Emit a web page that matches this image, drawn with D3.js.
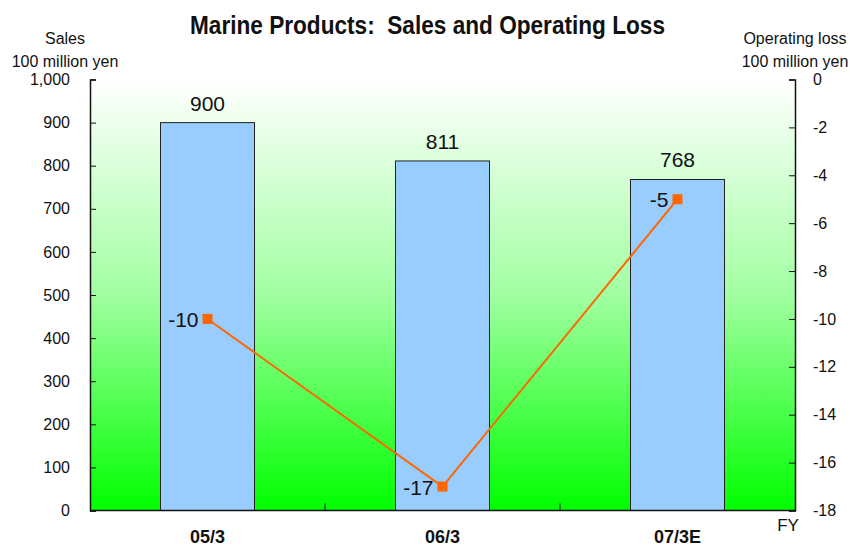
<!DOCTYPE html>
<html>
<head>
<meta charset="utf-8">
<script src="https://cdn.jsdelivr.net/npm/d3@7"></script>
<style>
  html, body { margin: 0; padding: 0; background: #fff; }
  svg { display: block; }
  text { font-family: "Liberation Sans Narrow", "Arial Narrow", "Liberation Sans", Arial, sans-serif; fill: #111; }
</style>
</head>
<body>
<svg id="chart" width="850" height="546"></svg>
<script>
// Fiscal years, sales (bars, left axis) and operating loss (line, right axis)
const categories = ["05/3", "06/3", "07/3E"];
const sales = [900, 811, 768];
const operatingLoss = [-10, -17, -5];
const salesTicks = [0, 100, 200, 300, 400, 500, 600, 700, 800, 900, 1000];
const lossTicks = [0, -2, -4, -6, -8, -10, -12, -14, -16, -18];

const svg = d3.select("#chart");
const m = { left: 90, right: 795, top: 79.5, bottom: 510.5 };

const x = d3.scaleBand().domain(categories).range([m.left, m.right]).paddingInner(0).paddingOuter(0);
const ySales = d3.scaleLinear().domain([0, 1000]).range([m.bottom, m.top]);
const yLoss = d3.scaleLinear().domain([-18, 0]).range([m.bottom, m.top]);

// Plot-area background: white fading to bright green
const defs = svg.append("defs");
const grad = defs.append("linearGradient").attr("id", "bg").attr("x1", 0).attr("y1", 0).attr("x2", 0).attr("y2", 1);
grad.append("stop").attr("offset", "0%").attr("stop-color", "#ffffff");
grad.append("stop").attr("offset", "50%").attr("stop-color", "#a2ffa2");
grad.append("stop").attr("offset", "100%").attr("stop-color", "#00ff00");

svg.append("rect")
  .attr("x", m.left).attr("y", m.top)
  .attr("width", m.right - m.left).attr("height", m.bottom - m.top)
  .attr("fill", "url(#bg)");

// Title, condensed to its narrow-face width
svg.append("text")
  .attr("x", 190).attr("y", 34)
  .attr("font-size", 25).attr("font-weight", "bold")
  .attr("textLength", 475).attr("lengthAdjust", "spacingAndGlyphs")
  .style("white-space", "pre")
  .text("Marine Products:  Sales and Operating Loss");

// Axis unit labels
const unitLabel = (cx, lines) => lines.forEach((t, i) =>
  svg.append("text").attr("x", cx).attr("y", 44 + i * 23)
    .attr("text-anchor", "middle").attr("font-size", 16).text(t));
unitLabel(65, ["Sales", "100 million yen"]);
unitLabel(795, ["Operating loss", "100 million yen"]);

// Bars
const barW = x.bandwidth() * 0.4;
svg.append("g").selectAll("rect")
  .data(categories)
  .join("rect")
  .attr("x", (d) => x(d) + (x.bandwidth() - barW) / 2)
  .attr("y", (d, i) => ySales(sales[i]))
  .attr("width", barW)
  .attr("height", (d, i) => m.bottom - ySales(sales[i]))
  .attr("fill", "#99ccff")
  .attr("stroke", "#222")
  .attr("stroke-width", 1);

// Bar value labels
svg.append("g").selectAll("text")
  .data(categories)
  .join("text")
  .attr("x", (d) => x(d) + x.bandwidth() / 2)
  .attr("y", (d, i) => ySales(sales[i]) - 12)
  .attr("text-anchor", "middle")
  .attr("font-size", 21)
  .text((d, i) => sales[i]);

// Left axis (ticks point inward)
const leftAxis = d3.axisLeft(ySales).tickValues(salesTicks).tickSize(-6).tickPadding(20)
  .tickFormat(d3.format(","));
const gL = svg.append("g").attr("transform", `translate(${m.left},0)`).call(leftAxis);
gL.select(".domain").attr("stroke", "#111").attr("stroke-width", 1.5);
gL.selectAll(".tick line").attr("stroke", "#111");
gL.selectAll(".tick text").attr("font-size", 16).attr("fill", "#111")
  .attr("font-family", "'Liberation Sans Narrow', 'Arial Narrow', 'Liberation Sans', sans-serif");

// Right axis (ticks point inward)
const rightAxis = d3.axisRight(yLoss).tickValues(lossTicks).tickSize(-6).tickPadding(18)
  .tickFormat(d3.format("d"));
const gR = svg.append("g").attr("transform", `translate(${m.right},0)`).call(rightAxis);
gR.select(".domain").attr("stroke", "#111").attr("stroke-width", 1.5);
gR.selectAll(".tick line").attr("stroke", "#111");
gR.selectAll(".tick text").attr("font-size", 16).attr("fill", "#111")
  .attr("font-family", "'Liberation Sans Narrow', 'Arial Narrow', 'Liberation Sans', sans-serif")
  .text((d) => d === 0 ? "0" : d.toString().replace("\u2212", "-"));

// Bottom axis: category dividers with inward ticks, bold labels
svg.append("line")
  .attr("x1", m.left).attr("x2", m.right)
  .attr("y1", m.bottom).attr("y2", m.bottom)
  .attr("stroke", "#111").attr("stroke-width", 1.5);
svg.append("g").selectAll("line")
  .data(categories.slice(1))
  .join("line")
  .attr("x1", (d) => x(d)).attr("x2", (d) => x(d))
  .attr("y1", m.bottom).attr("y2", m.bottom - 7)
  .attr("stroke", "#111");
svg.append("g").selectAll("text")
  .data(categories)
  .join("text")
  .attr("x", (d) => x(d) + x.bandwidth() / 2)
  .attr("y", 543)
  .attr("text-anchor", "middle")
  .attr("font-size", 18).attr("font-weight", "bold")
  .text((d) => d);
svg.append("text")
  .attr("x", 788).attr("y", 531)
  .attr("text-anchor", "middle")
  .attr("font-size", 17)
  .text("FY");

// Operating loss line with square markers
const cx = (d) => x(d) + x.bandwidth() / 2;
const line = d3.line().x((d, i) => cx(categories[i])).y((d) => yLoss(d));
svg.append("path")
  .datum(operatingLoss)
  .attr("d", line)
  .attr("fill", "none")
  .attr("stroke", "#ff6600")
  .attr("stroke-width", 2);
svg.append("g").selectAll("rect")
  .data(operatingLoss)
  .join("rect")
  .attr("x", (d, i) => cx(categories[i]) - 5)
  .attr("y", (d) => yLoss(d) - 5)
  .attr("width", 10).attr("height", 10)
  .attr("fill", "#ff6600");
svg.append("g").selectAll("text")
  .data(operatingLoss)
  .join("text")
  .attr("x", (d, i) => cx(categories[i]) - 9)
  .attr("y", (d) => yLoss(d) + 8)
  .attr("text-anchor", "end")
  .attr("font-size", 21)
  .text((d) => d.toString());
</script>
</body>
</html>
